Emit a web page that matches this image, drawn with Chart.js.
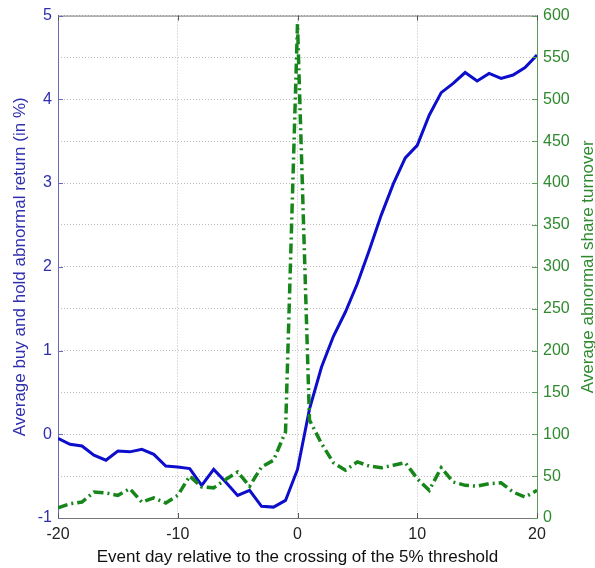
<!DOCTYPE html>
<html><head><meta charset="utf-8">
<script src="https://cdn.jsdelivr.net/npm/chart.js@4.4.1/dist/chart.umd.min.js"></script>
<style>html,body{margin:0;padding:0;background:#fff}#wrap{width:595px;height:568px;position:relative}</style>
</head><body><div id="wrap"><canvas id="c" width="595" height="568"></canvas></div>
<script>
const eventDays = [-20,-19,-18,-17,-16,-15,-14,-13,-12,-11,-10,-9,-8,-7,-6,-5,-4,-3,-2,-1,0,1,2,3,4,5,6,7,8,9,10,11,12,13,14,15,16,17,18,19,20];
const abnormalReturn = [-0.05,-0.12,-0.14,-0.25,-0.31,-0.20,-0.21,-0.18,-0.24,-0.38,
  -0.39,-0.41,-0.61,-0.42,-0.57,-0.73,-0.67,-0.86,-0.87,-0.79,
  -0.42,0.30,0.80,1.17,1.46,1.80,2.20,2.62,2.99,3.30,
  3.45,3.81,4.08,4.19,4.32,4.22,4.31,4.25,4.29,4.38,4.53];
const shareTurnover = [12,17,19,31,30,27,35,19,24,18,
  27,50,37,36,46,55,38,61,69,103,
  590,117,89,66,57,67,62,60,63,66,
  47,33,60,43,39,38,41,42,31,25,33];
const xTickValues = [-20,-10,0,10,20];
const leftTickValues = [-1,0,1,2,3,4,5];
const rightTickValues = [0,50,100,150,200,250,300,350,400,450,500,550,600];
const xTitle = 'Event day relative to the crossing of the 5% threshold';
const leftTitle = 'Average buy and hold abnormal return (in %)';
const rightTitle = 'Average abnormal share turnover';

const BLUE = '#0d0dcc', GREEN = '#17861a';
const LBLUE = '#2f2fae', LGREEN = '#2f8a2f';
const FONT = '"Liberation Sans", Arial, Helvetica, sans-serif';

const boxPlugin = {
  id: 'box',
  afterDraw(chart) {
    const {ctx, chartArea: a, scales} = chart;
    ctx.save();
    ctx.strokeStyle = '#777'; ctx.lineWidth = 1;
    ctx.beginPath(); ctx.moveTo(a.left, a.top + 0.5); ctx.lineTo(a.right, a.top + 0.5); ctx.stroke();
    const tl = 5;
    ctx.strokeStyle = '#555';
    xTickValues.forEach(v => {
      const px = Math.round(scales.x.getPixelForValue(v)) + 0.5;
      ctx.beginPath(); ctx.moveTo(px, a.bottom); ctx.lineTo(px, a.bottom - tl);
      ctx.moveTo(px, a.top); ctx.lineTo(px, a.top + tl); ctx.stroke();
    });
    ctx.strokeStyle = '#6a6ab8';
    leftTickValues.forEach(v => {
      const py = Math.round(scales.y.getPixelForValue(v)) + 0.5;
      ctx.beginPath(); ctx.moveTo(a.left, py); ctx.lineTo(a.left + tl, py); ctx.stroke();
    });
    ctx.strokeStyle = '#5a9e5a';
    rightTickValues.forEach(v => {
      const py = Math.round(scales.y2.getPixelForValue(v)) + 0.5;
      ctx.beginPath(); ctx.moveTo(a.right, py); ctx.lineTo(a.right - tl, py); ctx.stroke();
    });
    ctx.fillStyle = LGREEN;
    ctx.font = '17px ' + FONT;
    ctx.translate(588, (a.top + a.bottom) / 2);
    ctx.rotate(-Math.PI / 2);
    ctx.textAlign = 'center'; ctx.textBaseline = 'middle';
    ctx.fillText(rightTitle, 0, 0);
    ctx.restore();
  }
};

new Chart(document.getElementById('c'), {
  type: 'line',
  data: {
    datasets: [
      {
        label: 'turnover',
        data: eventDays.map((d, i) => ({x: d, y: shareTurnover[i]})),
        yAxisID: 'y2',
        borderColor: GREEN,
        borderWidth: 3.5,
        borderDash: [10, 4, 2, 4],
        pointRadius: 0,
        tension: 0,
        fill: false
      },
      {
        label: 'return',
        data: eventDays.map((d, i) => ({x: d, y: abnormalReturn[i]})),
        yAxisID: 'y',
        borderColor: BLUE,
        borderWidth: 3,
        pointRadius: 0,
        tension: 0,
        fill: false
      }
    ]
  },
  options: {
    responsive: false,
    devicePixelRatio: 1,
    animation: false,
    layout: {padding: {top: 15, left: 0, right: 0, bottom: 0}},
    plugins: {legend: {display: false}, tooltip: {enabled: false}},
    scales: {
      x: {
        type: 'linear', min: -20, max: 20,
        afterFit(s) { s.height = 50; },
        afterBuildTicks(s) { s.ticks = xTickValues.map(v => ({value: v})); },
        ticks: {color: '#222', padding: 7, font: {size: 16, family: FONT}, maxRotation: 0},
        grid: {color: '#bdbdbd', lineWidth: 1, drawTicks: false},
        border: {color: '#777', width: 1, dash: [1, 2]},
        title: {display: true, text: xTitle, color: '#111', font: {size: 17, family: FONT}, padding: {top: 0, bottom: 0}}
      },
      y: {
        position: 'left', min: -1, max: 5,
        afterFit(s) { s.width = 58; },
        afterBuildTicks(s) { s.ticks = leftTickValues.map(v => ({value: v})); },
        ticks: {color: LBLUE, padding: 6, font: {size: 16, family: FONT}},
        grid: {drawOnChartArea: false, drawTicks: false},
        border: {color: '#6a6ab8', width: 1},
        title: {display: true, text: leftTitle, color: LBLUE, font: {size: 17, family: FONT}, padding: {top: 10, bottom: 0}}
      },
      y2: {
        position: 'right', min: 0, max: 600,
        afterFit(s) { s.width = 58; },
        afterBuildTicks(s) { s.ticks = rightTickValues.map(v => ({value: v})); },
        ticks: {color: LGREEN, padding: 6, font: {size: 16, family: FONT}},
        grid: {color: '#bdbdbd', lineWidth: 1, drawTicks: false},
        border: {color: '#5a9e5a', width: 1, dash: [1, 2]}
      }
    }
  },
  plugins: [boxPlugin]
});
</script>
</body></html>
